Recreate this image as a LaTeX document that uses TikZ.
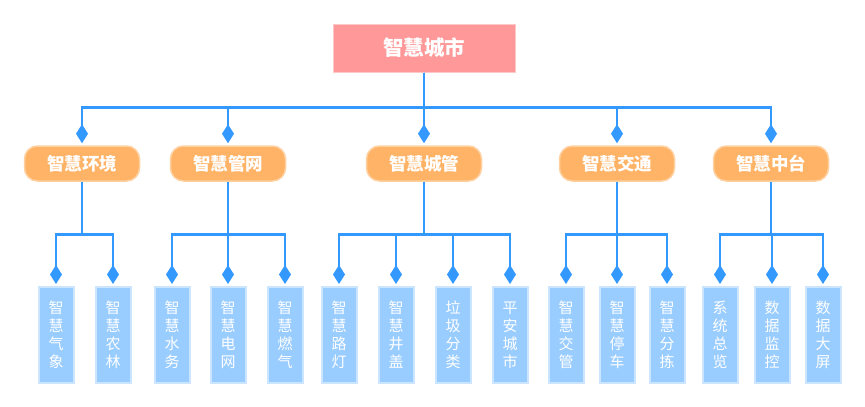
\documentclass[tikz,border=0pt]{standalone}
\usepackage{fontspec}
\setmainfont{Noto Sans CJK SC}
\usetikzlibrary{arrows.meta}
\definecolor{linec}{HTML}{3399FF}
\definecolor{topfill}{HTML}{FF9999}
\definecolor{topdraw}{HTML}{FFC8C8}
\definecolor{midfill}{HTML}{FFB366}
\definecolor{middraw}{HTML}{FFD0A0}
\definecolor{leaffill}{HTML}{99CCFF}
\definecolor{leafdraw}{HTML}{CCE5FF}
\tikzset{
  topbox/.style={fill=topfill,draw=topdraw,line width=1pt,minimum width=182pt,minimum height=48pt,inner sep=0pt,text=white,font=\fontsize{20.5}{22}\selectfont\bfseries},
  midbox/.style={fill=midfill,draw=middraw,line width=1.5pt,rounded corners=13pt,minimum width=115pt,minimum height=35pt,inner sep=0pt,text=white,font=\fontsize{17.5}{20}\selectfont\bfseries},
  leafbox/.style={fill=leaffill,draw=leafdraw,line width=2pt,minimum width=35pt,minimum height=96pt,inner sep=0pt,text=white,align=center,font=\fontsize{15}{18}\selectfont},
  conn/.style={draw=linec,line width=2.6pt,-{Diamond[length=19pt,width=12pt]},shorten >=2pt},
}
\begin{document}
\begin{tikzpicture}[x=1pt,y=-1pt]
\useasboundingbox (0,0) rectangle (865,407);
\node[topbox] (top) at (424,48) {智慧城市};
\node[midbox] (m1) at (82,163.5) {智慧环境};
\node[midbox] (m2) at (228,163.5) {智慧管网};
\node[midbox] (m3) at (424,163.5) {智慧城管};
\node[midbox] (m4) at (617,163.5) {智慧交通};
\node[midbox] (m5) at (771,163.5) {智慧中台};
\foreach \n/\x/\t in {a1/56/{智\\慧\\气\\象},a2/113/{智\\慧\\农\\林},
  b1/172/{智\\慧\\水\\务},b2/228/{智\\慧\\电\\网},b3/285/{智\\慧\\燃\\气},
  c1/339/{智\\慧\\路\\灯},c2/396/{智\\慧\\井\\盖},c3/453/{垃\\圾\\分\\类},c4/510/{平\\安\\城\\市},
  d1/566/{智\\慧\\交\\管},d2/617/{智\\慧\\停\\车},d3/667/{智\\慧\\分\\拣},
  e1/720/{系\\统\\总\\览},e2/772/{数\\据\\监\\控},e3/823/{数\\据\\大\\屏}}
  {\node[leafbox] (\n) at (\x,335) {\t};}
\foreach \m in {m1,m2,m3,m4,m5}
  \draw[conn] (top.south) -- ++(0,35) -| (\m.north);
\foreach \l in {a1,a2} \draw[conn] (m1.south) -- ++(0,53) -| (\l.north);
\foreach \l in {b1,b2,b3} \draw[conn] (m2.south) -- ++(0,53) -| (\l.north);
\foreach \l in {c1,c2,c3,c4} \draw[conn] (m3.south) -- ++(0,53) -| (\l.north);
\foreach \l in {d1,d2,d3} \draw[conn] (m4.south) -- ++(0,53) -| (\l.north);
\foreach \l in {e1,e2,e3} \draw[conn] (m5.south) -- ++(0,53) -| (\l.north);
\end{tikzpicture}
\end{document}
